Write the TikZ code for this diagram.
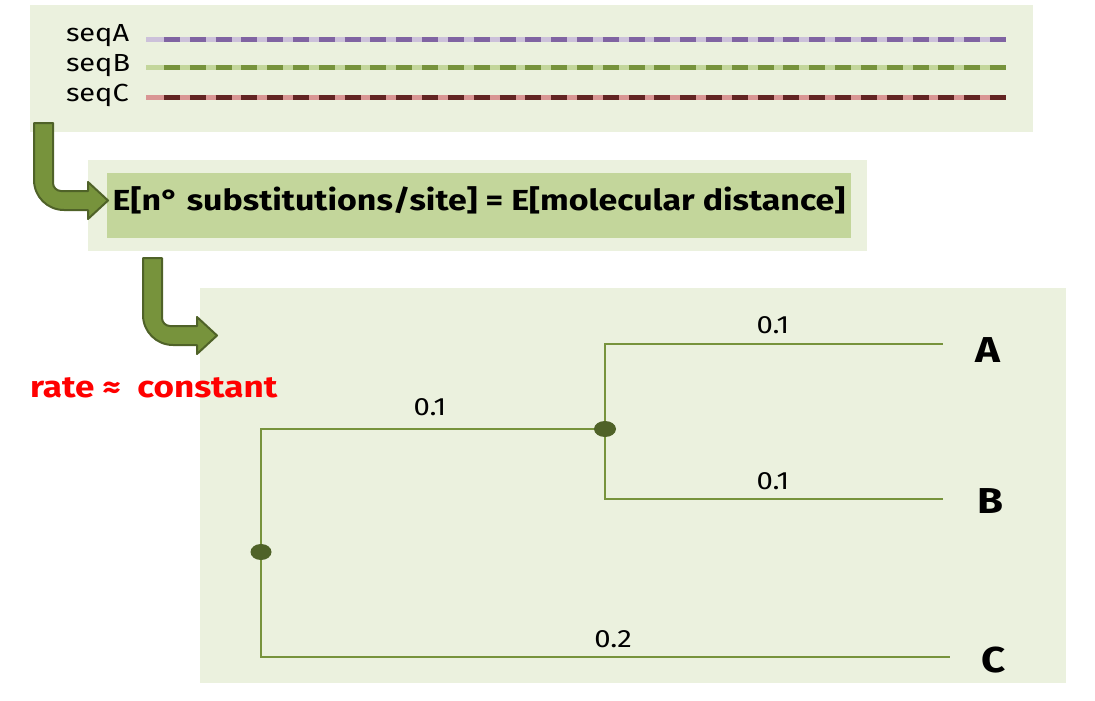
\documentclass[tikz,border=0pt]{standalone}
\usepackage{fontspec}
\setmainfont{Fira Sans}[FakeStretch=1.17]
\usepackage{tikz}
\usetikzlibrary{shapes,positioning}
\definecolor{PanelBg}{RGB}{235,241,222}
\definecolor{EqBg}{RGB}{195,214,155}
\definecolor{ArrowFill}{RGB}{119,147,60}
\definecolor{ArrowEdge}{RGB}{79,98,40}
\definecolor{BranchGreen}{RGB}{119,147,60}
\definecolor{SeqALight}{RGB}{204,193,218}
\definecolor{SeqADark}{RGB}{128,100,162}
\definecolor{SeqBLight}{RGB}{195,214,155}
\definecolor{SeqBDark}{RGB}{119,147,60}
\definecolor{SeqCLight}{RGB}{217,150,148}
\definecolor{SeqCDark}{RGB}{99,37,35}

\tikzset{
  bentarrow/.pic={
    \draw[line width=2pt, draw=ArrowEdge, fill=ArrowFill, line join=round]
      (0,0) -- (19,0) -- (19,60) .. controls (19,64.4) and (22.6,68) .. (27,68)
      -- (54,68) -- (54,59) -- (74,77.5) -- (54,96) -- (54,87) -- (30,87)
      .. controls (13.4,87) and (0,73.6) .. (0,57) -- cycle;
  }
}

\begin{document}
\begin{tikzpicture} [x=1pt, y=-1pt, text=black,
       every node/.style={inner sep=0pt, outer sep=0pt},
       panel/.style={rectangle, fill=PanelBg, draw=none, anchor=north west},
       seqlabel/.style={font=\fontsize{24.7}{28}\selectfont, anchor=base west},
       seqlight/.style={line width=4.7pt, draw=#1},
       seqdark/.style={line width=4.7pt, draw=#1, dash pattern=on 16pt off 9.81pt},
       eqbox/.style={rectangle, fill=EqBg, font=\bfseries\fontsize{29}{32}\selectfont,
                     text height=16pt, text depth=6pt},
       branch/.style={draw=BranchGreen, line width=1.1pt},
       treenode/.style={ellipse, fill=ArrowEdge, minimum width=21pt, minimum height=16pt},
       brlen/.style={font=\fontsize{25}{28}\selectfont, anchor=base},
       taxon/.style={font=\bfseries\fontsize{36}{40}\selectfont, anchor=base}]
	\useasboundingbox (0,0) rectangle (1095,701);

	%% Panels
	\node [panel, minimum width=1003pt, minimum height=127pt] (seqpanel) at (30,5) {};
	\node [panel, minimum width=779pt, minimum height=91pt] (eqpanel) at (88,160) {};
	\node [panel, minimum width=866pt, minimum height=395pt] (treepanel) at (200,288) {};

	%% Sequences
	\node [seqlabel] (seqA) at (66,42) {seqA};
	\node [seqlabel] (seqB) at (66,72) {seqB};
	\node [seqlabel] (seqC) at (66,102) {seqC};
	\draw [seqlight=SeqALight] (146,39.7) -- (1006,39.7);
	\draw [seqdark=SeqADark] (164,39.7) -- (1006,39.7);
	\draw [seqlight=SeqBLight] (146,67.3) -- (1006,67.3);
	\draw [seqdark=SeqBDark] (164,67.3) -- (1006,67.3);
	\draw [seqlight=SeqCLight] (146,97.3) -- (1006,97.3);
	\draw [seqdark=SeqCDark] (164,97.3) -- (1006,97.3);

	%% Distance
	\node [eqbox, minimum width=744pt, minimum height=65pt] (eq) at (479,205)
	      {E[n° substitutions/site] = E[molecular distance]};

	%% Bent arrows
	\pic at (34,123) {bentarrow};
	\pic at (143,258) {bentarrow};

	\node [font=\bfseries\fontsize{30}{34}\selectfont, text=red, anchor=base west] (rate)
	      at (30,397) {rate ≈\ \ constant};

	%% Tree
	\coordinate (root) at (261,552);
	\coordinate (anc) at (605,429);
	\coordinate (tipA) at (943,344);
	\coordinate (tipB) at (943,499);
	\coordinate (tipC) at (950,657);
	\draw [branch] (anc) -| (root) |- (tipC);
	\draw [branch] (anc) |- (tipA);
	\draw [branch] (anc) |- (tipB);
	\node [treenode] (rootdot) at (root) {};
	\node [treenode, minimum width=22pt] (ancdot) at (anc) {};

	%% Branch lengths
	\node [brlen] (lenanc) at (430,415) {0.1};
	\node [brlen] (lenA) at (773,333) {0.1};
	\node [brlen] (lenB) at (773,489) {0.1};
	\node [brlen] (lenC) at (613,647) {0.2};

	%% Taxa
	\node [taxon] (A) at (988,362) {A};
	\node [taxon] (B) at (990,513) {B};
	\node [taxon] (C) at (994,672) {C};
\end{tikzpicture}
\end{document}
